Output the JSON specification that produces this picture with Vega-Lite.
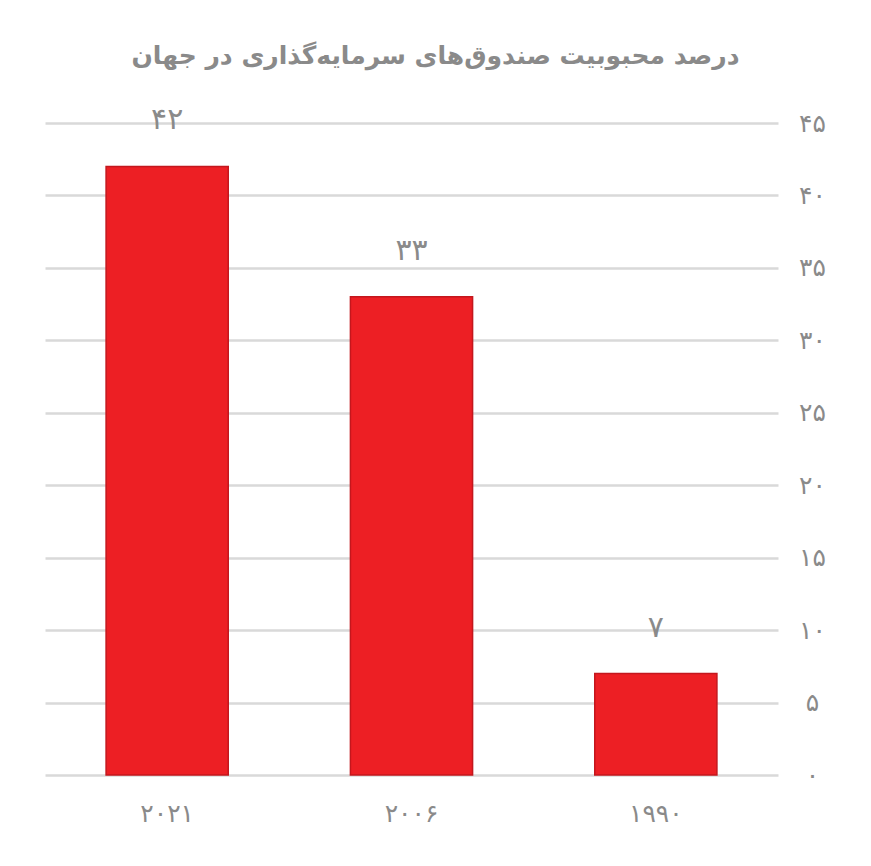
{
  "$schema": "https://vega.github.io/schema/vega-lite/v6.json",
  "width": 733,
  "height": 652,
  "autosize": {"type": "none"},
  "padding": {"top": 123, "left": 45, "right": 93, "bottom": 91},
  "background": "white",
  "title": {
    "text": "درصد محبوبیت صندوق‌های سرمایه‌گذاری در جهان",
    "font": "DejaVu Sans",
    "fontSize": 25,
    "fontWeight": "bold",
    "color": "#8a8a8a",
    "anchor": "middle",
    "dx": 24,
    "offset": 36
  },
  "data": {
    "values": [
      {"year": "۲۰۲۱", "percent": 42},
      {"year": "۲۰۰۶", "percent": 33},
      {"year": "۱۹۹۰", "percent": 7}
    ]
  },
  "encoding": {
    "x": {
      "field": "year",
      "type": "nominal",
      "sort": ["۲۰۲۱", "۲۰۰۶", "۱۹۹۰"],
      "scale": {"paddingInner": 0.5, "paddingOuter": 0.25},
      "axis": {
        "title": null,
        "labelAngle": 0,
        "ticks": false,
        "domain": false,
        "labelPadding": 26,
        "labelFontSize": 25,
        "labelFont": "DejaVu Sans",
        "labelColor": "#8a8a8a"
      }
    },
    "y": {
      "field": "percent",
      "type": "quantitative",
      "scale": {"domain": [0, 45]},
      "axis": {
        "orient": "right",
        "title": null,
        "values": [0, 5, 10, 15, 20, 25, 30, 35, 40, 45],
        "ticks": false,
        "domain": false,
        "labelAlign": "center",
        "labelPadding": 34,
        "labelFontSize": 25,
        "labelFont": "DejaVu Sans",
        "labelColor": "#8a8a8a",
        "gridColor": "#d9d9d9",
        "gridWidth": 2.5
      }
    }
  },
  "layer": [
    {
      "mark": {"type": "bar", "color": "#ed1f24", "stroke": "#c4171d", "strokeWidth": 1.5}
    },
    {
      "mark": {
        "type": "text",
        "dy": -46,
        "baseline": "middle",
        "font": "DejaVu Sans",
        "fontSize": 30,
        "color": "#8a8a8a"
      },
      "encoding": {
        "text": {"field": "percent", "type": "quantitative"}
      }
    }
  ],
  "config": {
    "view": {"stroke": null},
    "locale": {
      "number": {
        "decimal": ".",
        "thousands": ",",
        "grouping": [3],
        "currency": ["", ""],
        "numerals": ["۰", "۱", "۲", "۳", "۴", "۵", "۶", "۷", "۸", "۹"]
      }
    }
  }
}
